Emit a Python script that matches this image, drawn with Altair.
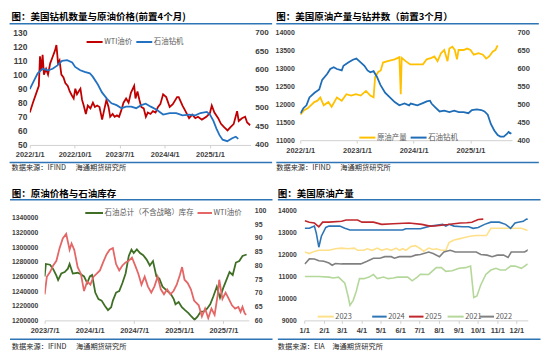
import altair as alt
import pandas as pd

# ---------------- Panel 1: WTI price vs oil rigs (rigs lead 4 months) ----------------
p1_wti_dates = ["2022-01-01","2022-01-20","2022-02-10","2022-02-25","2022-03-04","2022-03-12","2022-03-20","2022-03-28",
                "2022-04-10","2022-04-22","2022-05-05","2022-05-18","2022-06-03","2022-06-12","2022-06-22","2022-07-01",
                "2022-07-12","2022-07-25","2022-08-05","2022-08-20","2022-09-01","2022-09-15","2022-09-25","2022-10-05",
                "2022-10-15","2022-10-25","2022-11-05","2022-11-15","2022-11-25","2022-12-08","2022-12-20","2023-01-05",
                "2023-01-20","2023-02-01","2023-02-15","2023-03-01","2023-03-17","2023-03-28","2023-04-12","2023-04-25",
                "2023-05-05","2023-05-20","2023-06-01","2023-06-15","2023-06-28","2023-07-10","2023-07-25","2023-08-10",
                "2023-08-25","2023-09-08","2023-09-20","2023-09-28","2023-10-06","2023-10-18","2023-10-30","2023-11-10",
                "2023-11-25","2023-12-08","2023-12-20","2024-01-05","2024-01-20","2024-02-05","2024-02-20","2024-03-05",
                "2024-03-22","2024-04-10","2024-05-01","2024-05-20","2024-06-15","2024-06-25","2024-07-18","2024-08-05",
                "2024-08-27","2024-09-15","2024-10-04","2024-10-20","2024-11-13","2024-12-10","2025-01-01","2025-01-12",
                "2025-01-28","2025-02-20","2025-03-09","2025-03-28","2025-04-18","2025-05-06","2025-05-25","2025-06-15",
                "2025-06-25","2025-07-15","2025-08-03","2025-08-15","2025-09-03"]
p1_wti = [73, 80, 87, 92, 113, 103, 114, 100,
          104, 100, 108, 112, 117, 121, 108, 110,
          100, 98, 94, 92, 88, 85, 83, 90,
          86, 88, 90, 82, 78, 72, 78, 76,
          80, 77, 78, 77, 68, 74, 82, 77,
          70, 72, 70, 71, 70, 74, 80, 83,
          80, 87, 90, 92, 83, 88, 82, 77,
          76, 70, 73, 72, 74, 73, 77, 79,
          86, 84, 77, 79, 84, 84, 78, 74,
          69, 71.5, 69, 70, 68, 70, 72.7, 78,
          73, 69, 65, 62.6, 60.3, 62.6, 64.8, 74,
          67, 69, 70, 66, 64]
p1_rig_dates = ["2022-01-01","2022-01-25","2022-02-18","2022-03-20","2022-04-22","2022-05-20","2022-06-18","2022-07-16",
                "2022-08-16","2022-09-16","2022-10-04","2022-11-04","2022-12-01","2023-01-01","2023-01-19","2023-02-19",
                "2023-03-16","2023-04-16","2023-05-13","2023-06-13","2023-07-13","2023-08-10","2023-09-10","2023-10-10",
                "2023-11-10","2023-12-07","2024-01-07","2024-02-12","2024-03-22","2024-05-01","2024-06-10","2024-07-18",
                "2024-08-27","2024-10-04","2024-11-04","2024-12-13","2025-01-01","2025-01-22","2025-02-10","2025-02-28",
                "2025-03-19","2025-04-16","2025-05-16","2025-06-07","2025-06-22"]
p1_rig = [549, 570, 591, 603, 599, 603, 612, 624,
          626, 620, 608, 599, 595, 591, 582, 561,
          540, 523, 511, 506, 498, 502, 502, 498,
          506, 510, 502, 494, 481, 485, 485, 479,
          481, 479, 485, 488, 481, 464, 443, 426,
          414, 410, 418, 422, 416]

# ---------------- Panel 2: US crude output vs rigs (rigs lead 3 months) ----------------
p2_prod_dates = ["2022-01-01","2022-01-28","2022-02-18","2022-03-10","2022-04-01","2022-04-22","2022-05-10","2022-06-01",
                 "2022-07-01","2022-07-22","2022-08-25","2022-09-25","2022-10-25","2022-11-25","2022-12-25","2023-01-25",
                 "2023-02-28","2023-03-28","2023-04-18","2023-04-28","2023-05-18","2023-06-03","2023-06-18","2023-07-18",
                 "2023-09-01","2023-10-01","2023-10-10","2023-10-16","2023-11-10","2023-12-10","2024-01-22","2024-03-01",
                 "2024-03-25","2024-04-25","2024-05-13","2024-06-03","2024-06-25","2024-07-16","2024-08-06","2024-08-18",
                 "2024-09-06","2024-09-22","2024-10-06","2024-10-16","2024-11-18","2024-12-10","2025-01-01","2025-01-22",
                 "2025-02-22","2025-03-22","2025-04-12","2025-05-01","2025-05-25","2025-06-10","2025-06-25"]
p2_prod = [11710, 11840, 11890, 11970, 12060, 12100, 12190, 11970,
           12060, 11930, 12190, 12100, 12280, 12240, 12280, 12240,
           12370, 12240, 12190, 12760, 12900, 12940, 13160, 13200,
           13250, 13310, 12280, 13290, 13200, 13110, 13110, 13110,
           13250, 13290, 13330, 13200, 13420, 13510, 13200, 13550,
           13600, 13510, 13250, 13510, 13510, 13550, 13510, 13380,
           13420, 13380, 13270, 13330, 13470, 13510, 13640]
p2_rig_dates = ["2022-01-03","2022-01-21","2022-02-10","2022-03-01","2022-04-03","2022-05-03","2022-05-22","2022-06-24",
                "2022-07-13","2022-08-04","2022-08-25","2022-09-25","2022-10-06","2022-11-06","2022-12-06","2022-12-28",
                "2023-01-16","2023-02-18","2023-03-10","2023-03-28","2023-04-18","2023-05-10","2023-06-01","2023-07-01",
                "2023-08-01","2023-09-01","2023-10-01","2023-11-03","2023-12-03","2023-12-13","2024-01-25","2024-03-04",
                "2024-03-25","2024-04-15","2024-04-25","2024-05-16","2024-06-16","2024-07-16","2024-08-18","2024-09-18",
                "2024-10-18","2024-11-18","2024-12-18","2025-01-10","2025-02-10","2025-03-12","2025-04-01","2025-04-22",
                "2025-05-12","2025-06-03","2025-06-25","2025-07-12","2025-08-03","2025-08-25","2025-09-03","2025-09-21"]
p2_rig = [475, 489, 497, 519, 532, 541, 568, 585,
          598, 603, 598, 594, 607, 616, 624, 627,
          620, 607, 594, 589, 592, 576, 554, 532,
          519, 506, 497, 502, 497, 502, 497, 504,
          508, 510, 502, 493, 480, 482, 478, 482,
          478, 478, 475, 484, 486, 484, 480, 471,
          445, 427, 414, 410, 410, 418, 423, 418]

# ---------------- Panel 3: crude inventories vs WTI ----------------
p3_inv_dates = ["2023-07-01","2023-07-06","2023-07-23","2023-08-05","2023-08-18","2023-08-25","2023-09-07","2023-09-21",
                "2023-10-04","2023-10-11","2023-10-24","2023-11-13","2023-11-26","2023-12-09","2023-12-22","2024-01-02",
                "2024-01-11","2024-01-24","2024-02-06","2024-02-19","2024-03-03","2024-03-16","2024-03-29","2024-04-05",
                "2024-04-18","2024-05-01","2024-05-14","2024-05-27","2024-06-09","2024-06-20","2024-06-29","2024-07-12",
                "2024-07-25","2024-08-07","2024-08-21","2024-09-03","2024-09-16","2024-09-30","2024-10-12","2024-10-25",
                "2024-11-14","2024-11-28","2024-12-10","2024-12-17","2024-12-30","2025-01-12","2025-01-25","2025-02-08",
                "2025-02-21","2025-03-05","2025-03-17","2025-03-30","2025-04-12","2025-04-25","2025-05-08","2025-05-21",
                "2025-06-04","2025-06-17","2025-06-30","2025-07-13","2025-07-26","2025-08-08","2025-08-21","2025-09-04",
                "2025-09-17","2025-10-04"]
p3_inv = [1260000, 1277000, 1276000, 1270000, 1261000, 1255000, 1264000, 1266000,
          1270600, 1277000, 1264000, 1265000, 1263000, 1260000, 1251000, 1260000,
          1262000, 1238000, 1229000, 1227000, 1220000, 1214000, 1218000, 1227000,
          1238000, 1240000, 1251000, 1264000, 1288000, 1296600, 1292000, 1297000,
          1292000, 1289000, 1283000, 1275000, 1281000, 1260000, 1257000, 1246000,
          1240000, 1236000, 1229000, 1222000, 1225000, 1218000, 1214000, 1210000,
          1205000, 1201000, 1205000, 1212000, 1212000, 1216000, 1222000, 1233000,
          1246000, 1231000, 1244000, 1255000, 1266000, 1262000, 1279000, 1281000,
          1288000, 1290000]
p3_wti_dates = ["2023-07-01","2023-07-10","2023-07-23","2023-08-05","2023-08-18","2023-08-31","2023-09-13","2023-09-27",
                "2023-10-11","2023-10-19","2023-10-30","2023-11-13","2023-11-26","2023-12-09","2023-12-22","2024-01-04",
                "2024-01-17","2024-01-30","2024-02-12","2024-02-25","2024-03-10","2024-03-23","2024-04-05","2024-04-18",
                "2024-05-01","2024-05-14","2024-05-27","2024-06-09","2024-06-22","2024-07-05","2024-07-18","2024-07-31",
                "2024-08-13","2024-08-26","2024-09-09","2024-09-22","2024-10-05","2024-10-18","2024-10-31","2024-11-13",
                "2024-11-26","2024-12-09","2024-12-22","2025-01-04","2025-01-13","2025-01-23","2025-02-05","2025-02-18",
                "2025-03-03","2025-03-22","2025-04-04","2025-04-17","2025-04-30","2025-05-13","2025-05-26","2025-06-08",
                "2025-06-14","2025-06-27","2025-07-10","2025-07-23","2025-08-05","2025-08-18","2025-08-31","2025-09-09",
                "2025-09-17","2025-09-26","2025-10-02"]
p3_wti = [69.5, 75.9, 77.6, 80, 81.7, 86.3, 89.8, 91.5,
          85.7, 88, 85.7, 79.4, 77, 70.7, 74.2, 73,
          75.9, 77, 78.2, 81.1, 84, 85.7, 86.3, 80.5,
          78.2, 80, 81.1, 81.7, 82.9, 80, 77, 73,
          75.9, 72.4, 70.1, 72.4, 75.9, 71.3, 69.5, 71.3,
          69.5, 70.7, 73, 76.5, 79.4, 74.8, 73.6, 71.3,
          67.2, 65.5, 61.4, 64.3, 60.8, 64.3, 62, 69.5,
          74.8, 67.8, 70.1, 67.8, 65.5, 64.3, 64.9, 63.1,
          64.9, 62.6, 62]

# ---------------- Panel 4: US crude output by year (seasonal) ----------------
p4_years = ["2023", "2024", "2025", "2021", "2022"]
p4_colors = ["#FFE08A", "#2E75B6", "#C0272D", "#B4D79A", "#808080"]
p4_2023_md = ["01-02","01-09","01-17","01-24","02-09","02-19","03-01","03-11","03-21","03-26","04-05","04-10","04-18",
              "04-26","05-03","05-11","05-18","05-26","05-31","06-05","06-10","06-18","06-25","07-03","07-08","07-16",
              "07-23","07-28","08-05","08-12","08-17","08-25","09-02","09-09","09-19","09-29","10-15","10-22","11-01",
              "11-24","12-09","12-19"]
p4_2023 = [12110, 12040, 12140, 12190, 12190, 12260, 12290, 12260, 12290, 12190, 12190, 12260, 12190,
           12290, 12190, 12260, 12190, 12290, 12190, 12260, 12190, 12360, 12400, 12260, 12140, 12290,
           12230, 12260, 12190, 12190, 12540, 12660, 12710, 12760, 12830, 12860, 12860, 13190, 13190,
           13190, 13190, 13090]
p4_2024_md = ["01-02","01-09","01-17","01-20","01-24","01-28","02-04","02-09","02-26","03-06","03-14","04-05","06-05",
              "06-10","07-03","07-18","07-28","08-07","08-12","08-17","08-25","09-07","09-17","09-24","10-02","10-12",
              "10-22","11-04","11-14","11-22","11-29","12-04","12-12","12-17","12-22"]
p4_2024 = [13190, 13190, 13290, 12970, 12330, 12830, 13230, 13290, 13290, 13190, 13110, 13110, 13110,
           13170, 13170, 13290, 13330, 13370, 13290, 13370, 13290, 13260, 13260, 13190, 13230, 13370,
           13470, 13470, 13370, 13190, 13430, 13470, 13510, 13610, 13590]
p4_2025_md = ["01-02","01-09","01-17","01-24","01-30","02-09","03-01","03-08","03-26","04-02","04-20","05-03","05-21",
              "06-15","07-05","07-18","07-26","08-05","08-15","08-25","09-04","09-14","09-22","10-02","10-10"]
p4_2025 = [13540, 13470, 13430, 13260, 13470, 13470, 13510, 13570, 13570, 13470, 13470, 13370, 13400,
           13430, 13370, 13290, 13300, 13330, 13360, 13400, 13430, 13440, 13470, 13590, 13610]
p4_2021_md = ["01-02","01-24","02-09","02-16","02-24","03-06","03-11","03-14","03-19","03-24","03-29","04-05","04-13",
              "04-20","04-26","05-06","05-13","05-21","05-28","06-13","06-20","06-28","07-03","07-16","07-28","08-05",
              "08-12","08-22","09-02","09-12","09-20","09-25","09-30","10-06","10-14","10-22","10-30","11-06","11-14",
              "11-22","11-29","12-09","12-19"]
p4_2021 = [11000, 11000, 10970, 10930, 10970, 10690, 10110, 9690, 9900, 10330, 10900, 10900, 10970,
           11090, 10900, 10970, 10900, 10930, 10970, 10970, 10800, 10970, 11100, 11090, 11400, 11400,
           11230, 11260, 11370, 11400, 11470, 10040, 10110, 10610, 11090, 11290, 11370, 11290, 11290,
           11470, 11470, 11370, 11570]
p4_2022_md = ["01-02","01-09","01-17","01-24","02-01","02-09","02-14","02-19","03-01","03-31","04-10","04-20","04-30",
              "05-08","05-18","05-23","05-31","06-18","06-25","07-03","07-16","07-23","08-02","08-09","08-19","08-27",
              "09-07","09-29","10-06","10-16","10-24","11-01","11-11","11-18","11-23","12-14","12-21"]
p4_2022 = [11570, 11800, 11790, 11710, 11690, 11610, 11510, 11590, 11570, 11570, 11690, 11830, 11830,
           11900, 11900, 11830, 11900, 11900, 11970, 12000, 12110, 12040, 11900, 12110, 12190, 12110,
           12110, 12110, 12000, 11970, 11900, 11970, 11970, 11860, 12110, 12110, 12230]

# ---------------- styling helpers ----------------
FONT_CN = "Noto Sans CJK SC"
FONT_NUM = "Liberation Sans"
BAR = "#2E75B6"
ONE = pd.DataFrame({"k": [0]})


def txt(x, y, s, size=7.5, color="#595959", weight="normal"):
    return alt.Chart(ONE).mark_text(align="left", baseline="middle", font=FONT_CN, fontSize=size,
                                    fontWeight=weight, color=color).encode(
        x=alt.value(x), y=alt.value(y), text=alt.value(s))


def hline(x1, x2, y, color, w, opacity=1.0):
    return alt.Chart(ONE).mark_rule(color=color, strokeWidth=w, opacity=opacity).encode(
        x=alt.value(x1), x2=alt.value(x2), y=alt.value(y))


def utc(y, m, d):
    return alt.DateTime(year=y, month=m, date=d, utc=True)


def x_axis(values, fmt):
    return alt.Axis(values=values, labelExpr="utcFormat(datum.value, '%s')" % fmt, title=None, grid=False,
                    domainColor="#D0D0D0", domainWidth=1, tickColor="#D0D0D0", tickSize=3,
                    labelPadding=3, labelFont=FONT_NUM, labelFontSize=7.5, labelFontWeight="bold",
                    labelColor="#404040", labelAngle=0, labelFlush=False, labelOverlap=False)


def y_axis(orient, values, size, pad):
    return alt.Axis(orient=orient, values=values, format="d", title=None, grid=False, domain=False,
                    ticks=False, labelPadding=pad, labelFont=FONT_NUM, labelFontSize=size,
                    labelFontWeight="bold", labelColor="#404040", labelOverlap=False)


def line(dates, vals, color, width, xdom, xax, ydom, yax):
    df = pd.DataFrame({"d": dates, "v": vals})
    return alt.Chart(df).mark_line(color=color, strokeWidth=width, clip=True).encode(
        x=alt.X("d:T", scale=alt.Scale(type="utc", domain=xdom), axis=xax),
        y=alt.Y("v:Q", scale=alt.Scale(domain=ydom, nice=False, zero=False), axis=yax))


def legend_item(x1, x2, y, color, label):
    return [hline(x1, x2, y, color, 2), txt(x2 + 1.6, y, label, 7.5, "#595959")]


def frame(title, tx, ty, lx1, lx2, ly_top, ly_bot, sy, src, src_off):
    return [txt(tx, ty, title, 9.6, "#000000", "bold"),
            hline(lx1, lx2, ly_top, BAR, 1.5),
            hline(lx1, lx2, ly_bot, BAR, 1.5),
            txt(tx, sy, src, 7.3, "#262626"),
            txt(tx + src_off, sy, "海通期货研究所", 7.3, "#262626")]


# ---------------- Panel 1 ----------------
RED1, BLUE1 = "#C00000", "#2372C2"
x1dom = [utc(2022, 1, 1), utc(2025, 9, 6)]
x1ax = x_axis([utc(2022, 1, 1), utc(2022, 10, 1), utc(2023, 7, 1), utc(2024, 4, 1), utc(2025, 1, 1)], "%Y/%-m/%-d")
p1 = alt.layer(
    line(p1_wti_dates, p1_wti, RED1, 1.8, x1dom, x1ax, [50, 130], y_axis("left", list(range(50, 131, 10)), 8.5, 3)),
    line(p1_rig_dates, p1_rig, BLUE1, 1.8, x1dom, x1ax, [400, 700], y_axis("right", list(range(400, 701, 50)), 8.2, 4)),
    hline(-20.4, -10, -22.2, "white", 0.5, 0.0),
    hline(-20.4, -10, 145.0, "white", 0.5, 0.0),
    *frame("图：美国钻机数量与原油价格(前置4个月)", -18.5, -15.5, -20.4, 244.6, -8.8, 131.4, 136.6,
           "数据来源：IFIND", 64.7),
    *legend_item(57.3, 73.5, 9.7, RED1, "WTI油价"),
    *legend_item(107.5, 123.6, 9.7, BLUE1, "石油钻机"),
).resolve_scale(y="independent").properties(width=223.0, height=113.6)

# ---------------- Panel 2 ----------------
GOLD, BLUE2 = "#FFC000", "#1F6DB6"
x2dom = [utc(2022, 1, 1), utc(2025, 9, 25)]
x2ax = x_axis([utc(2022, 1, 1), utc(2023, 1, 1), utc(2024, 1, 1), utc(2025, 1, 1)], "%Y/%-m/%-d")
p2 = alt.layer(
    line(p2_prod_dates, p2_prod, GOLD, 1.8, x2dom, x2ax, [11000, 14000],
         y_axis("left", list(range(11000, 14001, 500)), 7.0, 6)),
    line(p2_rig_dates, p2_rig, BLUE2, 1.8, x2dom, x2ax, [400, 700],
         y_axis("right", list(range(400, 701, 50)), 7.6, 5)),
    *frame("图：美国原油产量与钻井数（前置3个月）", -24.3, -15.5, -24.2, 240.8, -8.8, 131.4, 136.6,
           "数据来源：IFIND", 64.7),
    *legend_item(59.6, 75.8, 106.2, GOLD, "原油产量"),
    *legend_item(111.4, 127.5, 106.2, BLUE2, "石油钻机"),
).resolve_scale(y="independent").properties(width=213.7, height=108.8)

# ---------------- Panel 3 ----------------
GREEN, PINK = "#3F6F24", "#E46666"
x3dom = [utc(2023, 7, 1), utc(2025, 10, 13)]
x3ax = x_axis([utc(2023, 7, 1), utc(2024, 1, 1), utc(2024, 7, 1), utc(2025, 1, 1), utc(2025, 7, 1)], "%Y/%-m/%-d")
p3 = alt.layer(
    line(p3_inv_dates, p3_inv, GREEN, 1.8, x3dom, x3ax, [1200000, 1350000],
         y_axis("left", list(range(1200000, 1340001, 20000)), 6.8, 7)),
    line(p3_wti_dates, p3_wti, PINK, 1.8, x3dom, x3ax, [60, 100],
         y_axis("right", list(range(60, 101, 5)), 7.0, 5.5)),
    hline(-34.96, -20, -26.0, "white", 0.5, 0.0),
    *frame("图：原油价格与石油库存", -33.1, -16.3, -34.96, 230.0, -10.9, 130.0, 137.9,
           "数据来源：IFIND", 64.7),
    *legend_item(41.0, 58.9, 2.5, GREEN, "石油总计（不含战略）库存"),
    *legend_item(154.3, 168.9, 2.5, PINK, "WTI油价"),
).resolve_scale(y="independent").properties(width=206.1, height=110.9)

# ---------------- Panel 4 ----------------
x4dom = [utc(2001, 1, 1), utc(2001, 12, 19)]
x4ax = x_axis([utc(2001, m, 1) for m in range(1, 13)], "%-m/%-d")
y4ax = y_axis("left", list(range(9000, 14001, 1000)), 6.8, 8)
p4_md = [p4_2023_md, p4_2024_md, p4_2025_md, p4_2021_md, p4_2022_md]
p4_vals = [p4_2023, p4_2024, p4_2025, p4_2021, p4_2022]
p4_lines = [line(["2001-" + d for d in md], vals, col, 1.6, x4dom, x4ax, [9000, 14000], y4ax)
            for md, vals, col in zip(p4_md, p4_vals, p4_colors)]
leg4_x = [(13.6, 29.8), (68.6, 83.2), (105.8, 120.4), (144.7, 160.9), (177.1, 191.6)]
leg4 = []
for (a, b), col, yr in zip(leg4_x, p4_colors, p4_years):
    leg4 += legend_item(a, b, 107.1, col, yr)
p4 = alt.layer(
    *p4_lines,
    *frame("图：美国原油产量", -26.6, -16.3, -26.6, 238.5, -10.9, 130.0, 137.9, "数据来源：EIA", 55.0),
    *leg4,
).properties(width=225.6, height=110.9)


def spacer(w):
    return alt.Chart(ONE).mark_point(opacity=0).encode(x=alt.value(1), y=alt.value(0.5)).properties(width=w, height=1)


row1 = alt.hconcat(p1, spacer(49.8), p2, spacing=0, bounds="flush")
row2 = alt.hconcat(spacer(14.56), p3, spacer(54.4), p4, spacing=0, bounds="flush")
chart = alt.vconcat(row1, row2, spacing=6.8, padding=0, background="white") \
    .configure_view(stroke="transparent")

chart.save("out.html", embed_options={"renderer": "svg", "actions": False})
